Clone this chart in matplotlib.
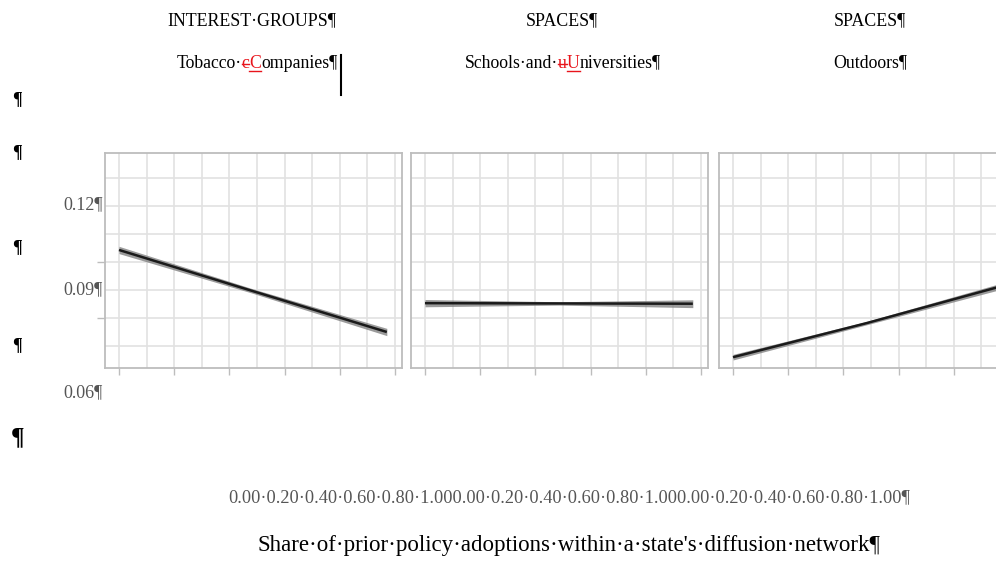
import numpy as np
import matplotlib
matplotlib.use("Agg")
import matplotlib.pyplot as plt
from matplotlib.lines import Line2D

plt.rcParams['font.family'] = ['Liberation Serif', 'DejaVu Serif']

# predicted values
x_vals = [0.0, 0.485, 0.97]
tobacco_fit = [0.1043, 0.0896, 0.0750]
tobacco_lo = [0.1030, 0.0888, 0.0737]
tobacco_hi = [0.1056, 0.0904, 0.0763]
schools_fit = [0.0853, 0.0852, 0.0851]
schools_lo = [0.0840, 0.0846, 0.0837]
schools_hi = [0.0866, 0.0858, 0.0865]
outdoors_fit = [0.0660, 0.0782, 0.0913]
outdoors_lo = [0.0650, 0.0776, 0.0902]
outdoors_hi = [0.0670, 0.0788, 0.0924]

headers = ["INTEREST\u00b7GROUPS\u00b6", "SPACES\u00b6", "SPACES\u00b6"]
subheaders = [
    [("Tobacco\u00b7", "k", None), ("c", "#e8141b", "strike"), ("C", "#e8141b", "under"), ("ompanies\u00b6", "k", None)],
    [("Schools\u00b7and\u00b7", "k", None), ("u", "#e8141b", "strike"), ("U", "#e8141b", "under"), ("niversities\u00b6", "k", None)],
    [("Outdoors\u00b6", "k", None)],
]
y_labels = ["0.12\u00b6", "0.09\u00b6", "0.06\u00b6"]
x_tick_labels = ["0.00", "0.20", "0.40", "0.60", "0.80", "1.00"]
x_tick_text = "".join(["\u00b7".join(x_tick_labels)] * 3) + "\u00b6"
x_title = "Share\u00b7of\u00b7prior\u00b7policy\u00b7adoptions\u00b7within\u00b7a\u00b7state's\u00b7diffusion\u00b7network\u00b6"

W, H = 996, 561
fig = plt.figure(figsize=(W / 100, H / 100), dpi=100)


def fx(px):
    return px / W


def fy(py):
    return 1 - py / H


panels = [
    (105, tobacco_fit, tobacco_lo, tobacco_hi),
    (411, schools_fit, schools_lo, schools_hi),
    (719, outdoors_fit, outdoors_lo, outdoors_hi),
]
for i, (left, fit, lo, hi) in enumerate(panels):
    ax = fig.add_axes([fx(left), fy(368), fx(297), 215 / H])
    ax.fill_between(x_vals, lo, hi, color="#7a7a7a", alpha=0.75, lw=0)
    ax.plot(x_vals, fit, color="#1a1a1a", lw=1.8, solid_capstyle="butt")
    ax.set_xlim(-0.0507, 1.025)
    ax.set_ylim(0.06214, 0.13893)
    ax.set_xticks(np.arange(0, 1.01, 0.2))
    ax.set_xticks(np.arange(0.1, 1.0, 0.2), minor=True)
    ax.set_yticks([0.08, 0.10])
    ax.set_yticks([0.07, 0.09, 0.11, 0.12, 0.13], minor=True)
    ax.grid(True, which="both", color="#e2e2e2", lw=1.2)
    ax.set_axisbelow(True)
    ax.tick_params(which="minor", length=0)
    ax.tick_params(axis="x", which="major", length=5, color="#bdbdbd", width=1, labelbottom=False)
    if i == 0:
        ax.tick_params(axis="y", which="major", length=6, color="#bdbdbd", width=1, labelleft=False)
    else:
        ax.tick_params(axis="y", which="major", length=0, labelleft=False)
    for s in ax.spines.values():
        s.set_color("#bdbdbd")
        s.set_linewidth(1.3)

# headers
for cx, h in zip([252, 562, 870], headers):
    fig.text(fx(cx), fy(21), h, ha="center", va="center", fontsize=12.9)

fig.canvas.draw()
rend = fig.canvas.get_renderer()


def draw_runs(cx, py, runs, size=12.8):
    items = []
    for txt, col, deco in runs:
        t = fig.text(0, fy(py), txt, color=col, fontsize=size, ha="left", va="center")
        w = t.get_window_extent(rend).width
        items.append((t, w, deco))
    total = sum(w for _, w, _ in items)
    x = cx - total / 2
    for t, w, deco in items:
        t.set_x(fx(x))
        if deco == "under":
            fig.add_artist(Line2D([fx(x), fx(x + w)], [fy(py + 8), fy(py + 8)], color="#e8141b", lw=1))
        elif deco == "strike":
            fig.add_artist(Line2D([fx(x), fx(x + w)], [fy(py + 1), fy(py + 1)], color="#e8141b", lw=1))
        x += w


for cx, runs in zip([257, 563, 870], subheaders):
    draw_runs(cx, 63, runs)

# text cursor
fig.add_artist(Line2D([fx(341), fx(341)], [fy(55), fy(95)], color="k", lw=1.5))

# y labels
for py, lab in zip([205, 290, 393], y_labels):
    fig.text(fx(103), fy(py), lab, ha="right", va="center", fontsize=13, color="#555555")

# paragraph marks on the left
for py in [100, 153, 248, 346]:
    fig.text(fx(17), fy(py), "\u00b6", ha="center", va="center", fontsize=13, fontweight="bold")
fig.text(fx(18), fy(438), "\u00b6", ha="center", va="center", fontsize=18, fontweight="bold")

fig.text(fx(569), fy(498), x_tick_text, ha="center", va="center", fontsize=13.2, color="#555555")
fig.text(fx(569), fy(545), x_title, ha="center", va="center", fontsize=16.5)

fig.savefig("out.png", dpi=100)
